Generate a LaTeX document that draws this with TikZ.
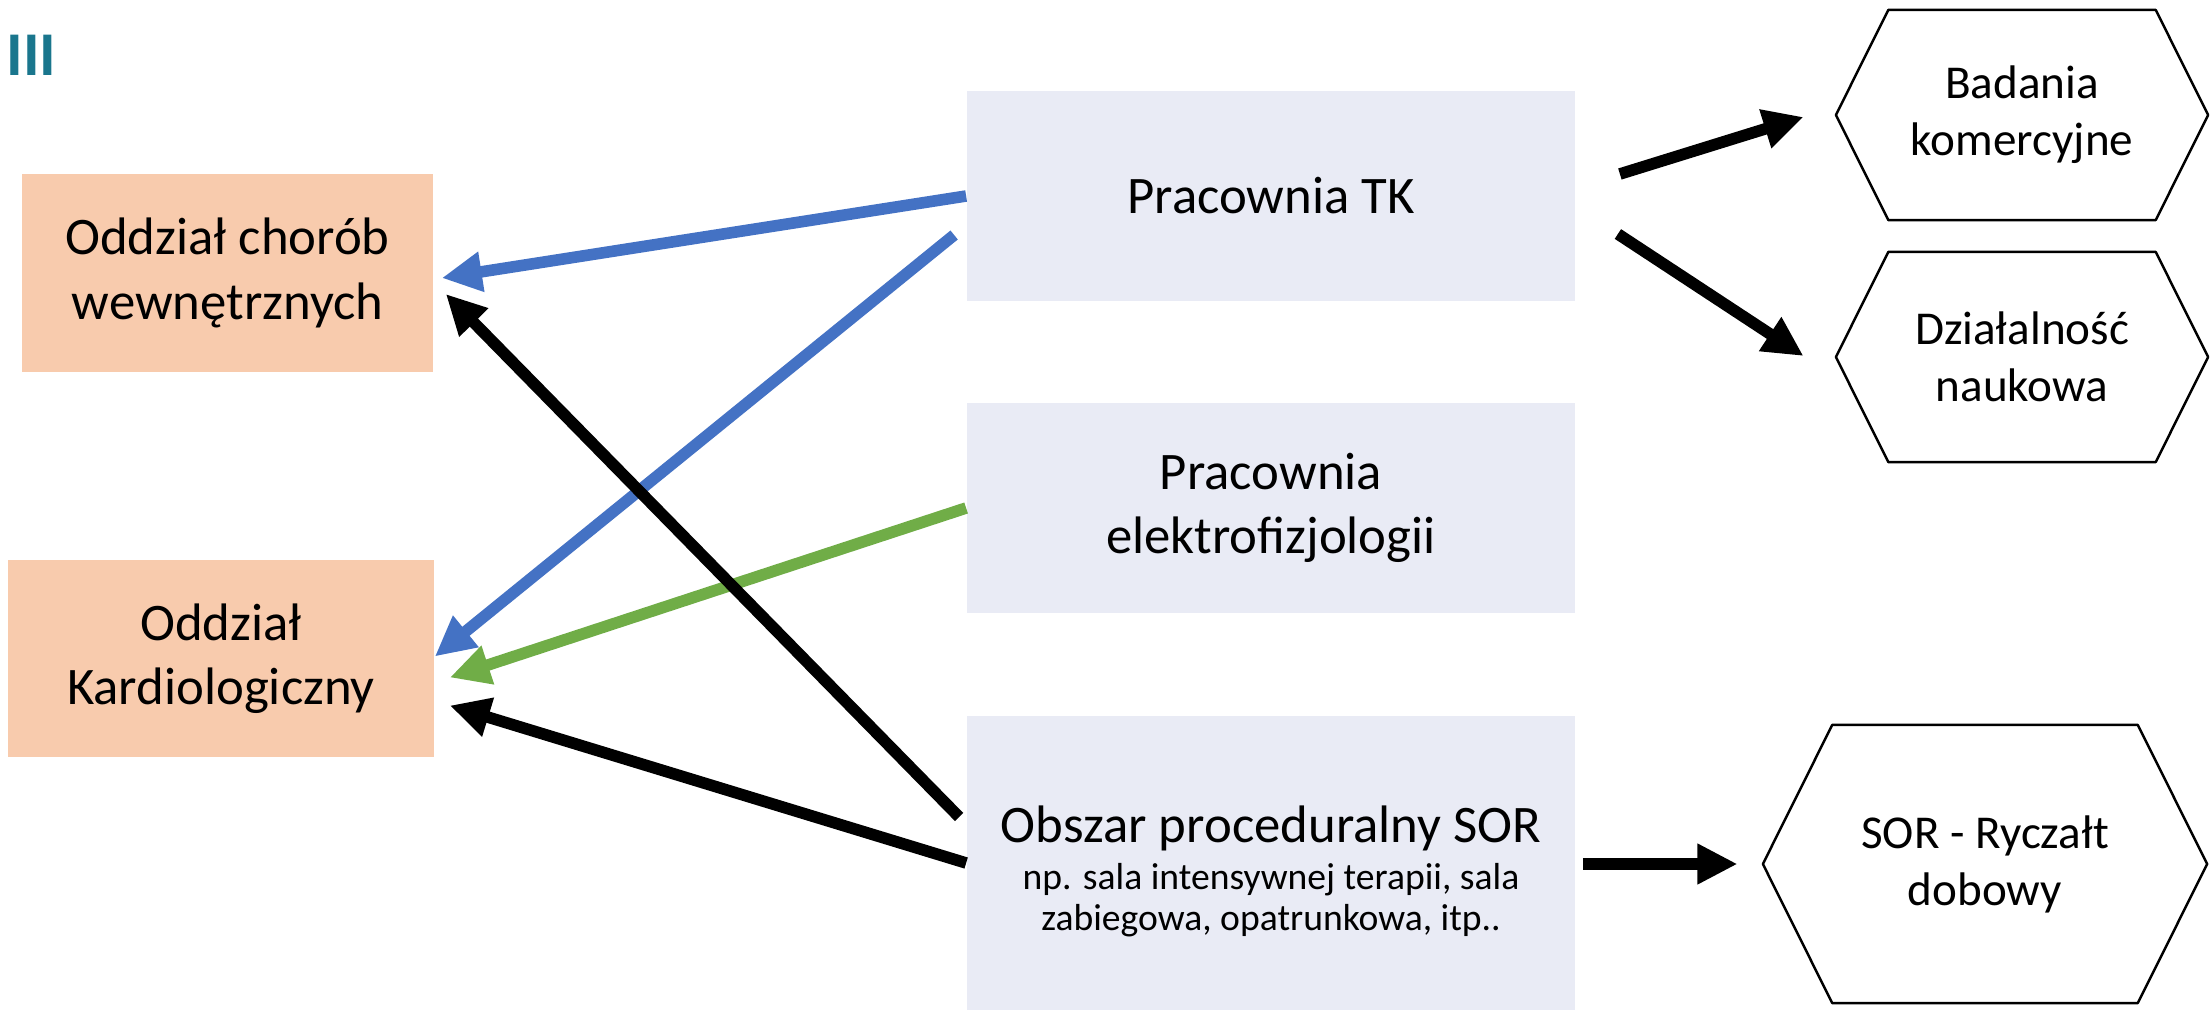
\documentclass[tikz,border=0pt]{standalone}
\usepackage{fontspec}
\setmainfont{Carlito}
\usetikzlibrary{arrows.meta,calc,shapes.symbols}
\definecolor{oddzial}{HTML}{F8CBAD}
\definecolor{pracownia}{HTML}{E9EBF5}
\definecolor{niebieski}{HTML}{4472C4}
\definecolor{zielony}{HTML}{70AD47}
\definecolor{numer}{RGB}{26,118,141}
\newcommand\duzy{\fontsize{15}{18.3}\selectfont}
\newcommand\sredni{\fontsize{13.4}{16.2}\selectfont}
\newcommand\maly{\fontsize{10.7}{12.8}\selectfont}
\begin{document}
\begin{tikzpicture}[x=0.01cm,y=-0.01cm,line join=round,
	>={Triangle[length=0.4cm,width=0.38cm]},
	oddz/.style={fill=oddzial,align=center,font=\duzy,inner sep=0pt},
	prac/.style={fill=pracownia,align=center,font=\duzy,inner sep=0pt,minimum width=6.08cm,minimum height=2.10cm},
	hexa/.style={draw,line width=0.7pt,signal,signal to=west and east,signal pointer angle=127,align=center,font=\sredni,inner sep=0pt},
	strz/.style={->,line width=3.3pt}]
		\useasboundingbox (0,0) rectangle (2212,1012);
		\node[anchor=base west,inner sep=0pt,text=numer,font=\bfseries\fontsize{17.7}{18}\selectfont] (nr) at (6,75) {III};
		\node[oddz,minimum width=4.11cm,minimum height=1.98cm] (chorob) at (227.5,273) {Oddział chorób\\wewnętrznych};
		\node[oddz,minimum width=4.26cm,minimum height=1.97cm] (kardio) at (221,658.5) {Oddział\\Kardiologiczny};
		\node[prac] (tk) at (1271,196) {Pracownia TK};
		\node[prac] (elektro) at (1271,508) {Pracownia\\elektrofizjologii};
		\node[prac,minimum height=2.94cm] (sor) at (1271,863) {};
		\node[align=center,font=\duzy,inner sep=0pt] (sortxt) at ($(sor)+(0,8)$) {Obszar proceduralny SOR\\[-4.8pt]{\maly np. sala intensywnej terapii, sala}\\[-6.8pt]{\maly zabiegowa, opatrunkowa, itp..}};
		\node[hexa,minimum width=3.72cm,minimum height=2.10cm] (badania) at (2022,115) {Badania\\komercyjne};
		\node[hexa,minimum width=3.72cm,minimum height=2.10cm] (naukowa) at (2022,357) {Działalność\\naukowa};
		\node[hexa,minimum width=4.44cm,minimum height=2.78cm] (ryczalt) at (1985,864) {SOR - Ryczałt\\dobowy};
		\draw[strz,niebieski] (tk.west) -- ($(chorob.east)+(8,5)$);
		\draw[strz,niebieski] ($(tk.west)+(-12,39)$) -- ($(kardio.east)+(0,-2)$);
		\draw[strz,zielony] (elektro.west) -- ($(kardio.east)+(15,19)$);
		\draw[strz] ($(sor.west)+(-7,-46)$) -- ($(chorob.east)+(12,21)$);
		\draw[strz] (sor.west) -- ($(kardio.east)+(15,47)$);
		\draw[strz] ($(tk.east)+(44,-22)$) -- ($(badania.west)+(-31,2)$);
		\draw[strz] ($(tk.east)+(42,38)$) -- ($(naukowa.west)+(-31,-1)$);
		\draw[strz] ($(sor.east)+(7,1)$) -- ($(ryczalt.west)+(-24,0)$);
\end{tikzpicture}
\end{document}
